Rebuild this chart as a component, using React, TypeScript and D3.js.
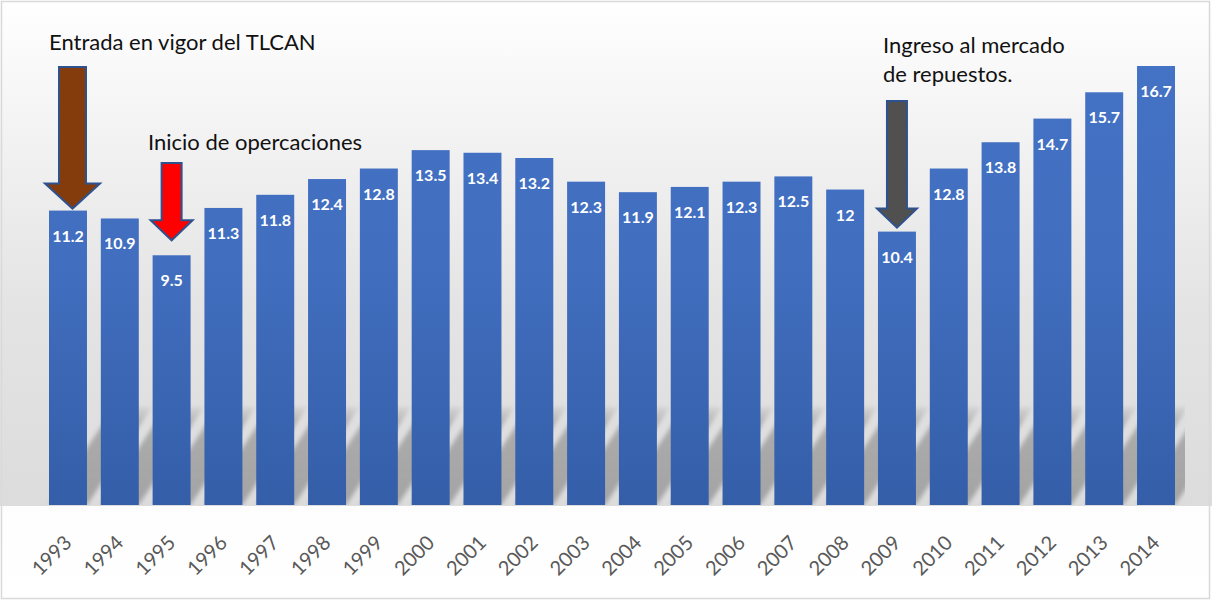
import React from 'react';
import * as d3 from 'd3';

const years = ['1993','1994','1995','1996','1997','1998','1999','2000','2001','2002','2003','2004','2005','2006','2007','2008','2009','2010','2011','2012','2013','2014'];
const values = [11.2,10.9,9.5,11.3,11.8,12.4,12.8,13.5,13.4,13.2,12.3,11.9,12.1,12.3,12.5,12,10.4,12.8,13.8,14.7,15.7,16.7];

const arrowYears = ['1993','1995','2009'];
const arrowFills = ['#843c0c','#ff0000','#505050'];
const arrowTops = [67,163,101];
const arrowGaps = [2,15,4];
const arrowDx = [4.5,0,0];
const arrowShaft = [27,20,20];
const arrowHead = [55,42,40];
const arrowHeadLen = [25,20,19];

const noteLines = ['Entrada en vigor del TLCAN','Inicio de opercaciones','Ingreso al mercado','de repuestos.'];
const noteX = [49,148,883,883];
const noteY = [50,150,53,82];

const W = 1212, H = 601;

export default function App() {
  const x = d3.scaleBand<string>().domain(years).range([49, 1175]).paddingInner(0.267).paddingOuter(0);
  const y = d3.scaleLinear().domain([0, 16.7]).range([505, 66]);
  const bw = x.bandwidth();
  const base = y(0);
  const shDx = 65, shH = 98;

  return (
    <svg width={W} height={H} style={{ position: 'absolute', left: 0, top: 0 }} fontFamily="Lato, 'Open Sans', sans-serif">
      <defs>
        <linearGradient id="plotBg" x1="0" y1="0" x2="0" y2="1">
          <stop offset="0" stopColor="#ffffff" />
          <stop offset="0.3" stopColor="#f1f1f1" />
          <stop offset="0.6" stopColor="#e4e4e4" />
          <stop offset="1" stopColor="#dcdcdc" />
        </linearGradient>
        <linearGradient id="lowBg" x1="0" y1="0" x2="0" y2="1">
          <stop offset="0" stopColor="#f4f4f4" />
          <stop offset="1" stopColor="#ffffff" />
        </linearGradient>
        <linearGradient id="barFill" gradientUnits="userSpaceOnUse" x1="0" y1="66" x2="0" y2="505">
          <stop offset="0" stopColor="#4472c4" />
          <stop offset="0.45" stopColor="#416ebf" />
          <stop offset="1" stopColor="#345ea8" />
        </linearGradient>
        <linearGradient id="shFill" gradientUnits="userSpaceOnUse" x1="0" y1={base - shH} x2="0" y2={base}>
          <stop offset="0" stopColor="#9a9a9a" stopOpacity="0.15" />
          <stop offset="0.2" stopColor="#9a9a9a" stopOpacity="0.75" />
          <stop offset="1" stopColor="#9a9a9a" stopOpacity="0.85" />
        </linearGradient>
        <filter id="blur" x="-20%" y="-20%" width="140%" height="140%">
          <feGaussianBlur stdDeviation="2" />
        </filter>
        <clipPath id="shClip">
          <rect x={0} y={0} width={1185} height={base} />
        </clipPath>
      </defs>

      <rect x={0} y={0} width={W} height={H} fill="url(#lowBg)" />
      <rect x={0} y={0} width={W} height={base + 1} fill="url(#plotBg)" />
      <rect x={1.5} y={1.5} width={1208} height={597} fill="none" stroke="#d9d9d9" strokeWidth={1.5} />

      <g clipPath="url(#shClip)">
        <g filter="url(#blur)">
          {years.map((yr) => {
            const x0 = x(yr)!;
            const x1 = x0 + bw;
            const pts = `${x0},${base} ${x1},${base} ${x1 + shDx},${base - shH} ${x0 + shDx},${base - shH}`;
            return <polygon key={yr} points={pts} fill="url(#shFill)" />;
          })}
        </g>
      </g>

      {years.map((yr, i) => (
        <rect key={yr} x={x(yr)} y={y(values[i])} width={bw} height={base - y(values[i])} fill="url(#barFill)" />
      ))}

      {years.map((yr, i) => (
        <text key={'v' + yr} x={x(yr)! + bw / 2} y={y(values[i]) + 31} textAnchor="middle" fill="#ffffff" fontWeight="bold" fontSize={16}>
          {String(values[i])}
        </text>
      ))}

      {years.map((yr) => {
        const cx = x(yr)! + bw / 2 + 5;
        const cy = 544;
        return (
          <text key={'t' + yr} x={cx} y={cy} transform={`rotate(-45 ${cx} ${cy})`} textAnchor="end" fill="#595959" fontSize={20}>
            {yr}
          </text>
        );
      })}

      {arrowYears.map((yr, i) => {
        const idx = years.indexOf(yr);
        const cx = x(yr)! + bw / 2 + arrowDx[i];
        const tip = y(values[idx]) - arrowGaps[i];
        const top = arrowTops[i];
        const hs = arrowShaft[i] / 2, hh = arrowHead[i] / 2, hl = arrowHeadLen[i];
        const path = d3.path();
        path.moveTo(cx - hs, top);
        path.lineTo(cx + hs, top);
        path.lineTo(cx + hs, tip - hl);
        path.lineTo(cx + hh, tip - hl);
        path.lineTo(cx, tip);
        path.lineTo(cx - hh, tip - hl);
        path.lineTo(cx - hs, tip - hl);
        path.closePath();
        return <path key={'a' + yr} d={path.toString()} fill={arrowFills[i]} stroke="#2f528f" strokeWidth={2} strokeLinejoin="miter" />;
      })}

      {noteLines.map((t, i) => (
        <text key={'n' + i} x={noteX[i]} y={noteY[i]} fill="#111111" fontSize={22}>
          {t}
        </text>
      ))}
    </svg>
  );
}
